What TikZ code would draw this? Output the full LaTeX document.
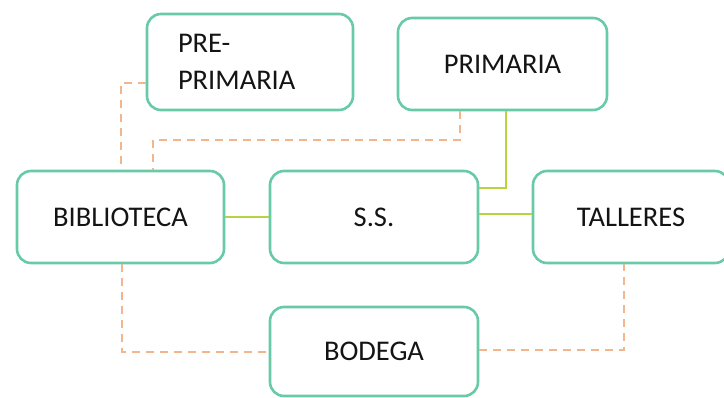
\documentclass[tikz,border=0pt]{standalone}
\usepackage{fontspec}
\setmainfont{Carlito}
\definecolor{boxteal}{RGB}{104,202,166}
\definecolor{lnkgreen}{RGB}{182,212,62}
\definecolor{lnkorange}{RGB}{242,182,142}
\begin{document}
\begin{tikzpicture}[x=1pt,y=-1pt,
  box/.style={draw=boxteal,line width=2.6pt,rounded corners=14pt,fill=white,
    inner sep=0pt,font=\fontsize{28.5}{37}\selectfont,text=black!92},
  solidlink/.style={draw=lnkgreen,line width=2.2pt},
  dashlink/.style={draw=lnkorange,line width=2.4pt,dash pattern=on 8pt off 6pt}]
\useasboundingbox (0,0) rectangle (724,398);
\clip (0,0) rectangle (724,398);
% nodes
\node[box,minimum width=206pt,minimum height=96pt,align=left,text width=144pt,inner xsep=31pt] (pre) at (250,62) {PRE-\\PRIMARIA};
\node[box,minimum width=209pt,minimum height=92pt] (prim) at (502.5,64) {PRIMARIA};
\node[box,minimum width=207pt,minimum height=92pt] (bib) at (120.5,217) {BIBLIOTECA};
\node[box,minimum width=208pt,minimum height=92pt] (ss) at (374,217) {\raisebox{-5pt}{S.S.}};
\node[box,minimum width=196pt,minimum height=92pt] (tal) at (631,217) {TALLERES};
\node[box,minimum width=208pt,minimum height=89pt] (bod) at (374,351.5) {BODEGA};
% helper coordinates
\coordinate (k1) at (121,83);
\coordinate (k2) at (153,140);
\coordinate (k2b) at (460,140);
\coordinate (k3) at (506,188);
\coordinate (k4) at (0,214);
\coordinate (k5) at (122,352);
\coordinate (k6) at (624,350);
% connectors
\draw[dashlink] (pre.west |- k1) -| (bib.north -| k1);
\draw[dashlink] (prim.south -| k2b) |- (k2) -- (bib.north -| k2);
\draw[solidlink] (prim.south -| k3) |- (ss.east |- k3);
\draw[solidlink] (bib.east) -- (ss.west);
\draw[solidlink] (ss.east |- k4) -- (tal.west |- k4);
\draw[dashlink] (bib.south -| k5) |- (bod.west |- k5);
\draw[dashlink] (bod.east |- k6) -| (tal.south -| k6);
\end{tikzpicture}
\end{document}
